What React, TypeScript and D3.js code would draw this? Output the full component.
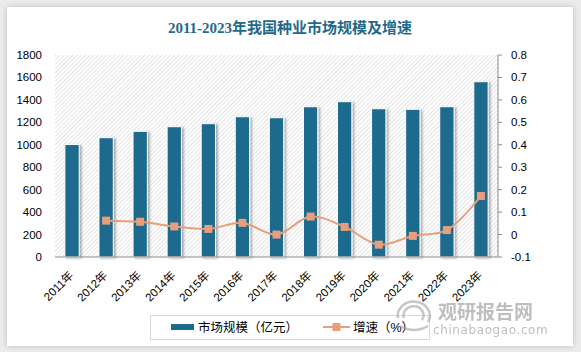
import React from "react";
import * as d3 from "d3";

const years = ["2011年","2012年","2013年","2014年","2015年","2016年","2017年","2018年","2019年","2020年","2021年","2022年","2023年"];
const marketSize = [1002, 1063, 1120, 1161, 1188, 1250, 1241, 1339, 1384, 1321, 1316, 1339, 1562];
const growth: (number | null)[] = [null, 0.062, 0.057, 0.036, 0.025, 0.052, 0.0, 0.08, 0.034, -0.045, -0.006, 0.02, 0.172];
const leftTicks = [0, 200, 400, 600, 800, 1000, 1200, 1400, 1600, 1800];
const rightTicks = [-0.1, 0, 0.1, 0.2, 0.3, 0.4, 0.5, 0.6, 0.7, 0.8];
const title = "2011-2023年我国种业市场规模及增速";
const legendBar = "市场规模（亿元）";
const legendLine = "增速（%）";

const W = 581, H = 352;
const L = 55, R = 498, T = 55, B = 257;
const BAR = "#1c6b8e";
const LINE = "#e89e7b";
const SANS = "'Liberation Sans', Arial, 'Noto Sans CJK SC', sans-serif";

export default function App() {
  const x = d3.scaleBand<string>().domain(years).range([L, R]).padding(0);
  const yL = d3.scaleLinear().domain([0, 1800]).range([B, T]);
  const yR = d3.scaleLinear().domain([-0.1, 0.8]).range([B, T]);
  const bw = x.bandwidth() * 0.42;
  const pts = years
    .map((y, i) => ({ y, v: growth[i] }))
    .filter((d) => d.v !== null) as { y: string; v: number }[];
  const line = d3
    .line<{ y: string; v: number }>()
    .x((d) => (x(d.y) as number) + x.bandwidth() / 2)
    .y((d) => yR(d.v))
    .curve(d3.curveCatmullRom.alpha(0.5));
  const fmt = (v: number) => (Math.abs(v) < 1e-9 ? "0" : v.toFixed(1));

  return (
    <svg width={W} height={H} style={{ position: "fixed", left: 0, top: 0 }} xmlns="http://www.w3.org/2000/svg">
      <defs>
        <pattern id="hatch" width="3" height="3" patternUnits="userSpaceOnUse" patternTransform="rotate(45)">
          <rect width="3" height="3" fill="#ffffff" />
          <line x1="0" y1="0" x2="0" y2="3" stroke="#cfcfcf" strokeWidth="1.1" />
        </pattern>
        <filter id="cardShadow" x="-5%" y="-5%" width="110%" height="110%">
          <feDropShadow dx="0" dy="0" stdDeviation="3" floodColor="#9a9a9a" floodOpacity="0.6" />
        </filter>
        <filter id="barShadow" x="-30%" y="-10%" width="160%" height="120%">
          <feDropShadow dx="2" dy="1" stdDeviation="1.2" floodColor="#000" floodOpacity="0.3" />
        </filter>
      </defs>
      <rect x={0} y={0} width={W} height={H} fill="#ececec" />
      <rect x={7} y={7} width={566} height={339} fill="#ffffff" filter="url(#cardShadow)" />
      <text x={290} y={33} textAnchor="middle" fontSize={15} fontWeight="bold" fill="#1f6a8c"
        fontFamily="'Liberation Serif', 'Noto Sans CJK SC', serif">{title}</text>

      <rect x={L} y={T} width={R - L} height={B - T} fill="url(#hatch)" />

      {years.map((yr, i) => (
        <rect key={yr} x={(x(yr) as number) + (x.bandwidth() - bw) / 2} y={yL(marketSize[i])}
          width={bw} height={B - yL(marketSize[i])} fill={BAR} stroke="#ffffff" strokeWidth={1}
          filter="url(#barShadow)" />
      ))}

      <line x1={L} x2={R} y1={B} y2={B} stroke="#8c8c8c" strokeWidth={1} />
      <line x1={R} x2={R} y1={T} y2={B} stroke="#8c8c8c" strokeWidth={1} />

      {leftTicks.map((t) => (
        <text key={t} x={42} y={yL(t)} dy="0.35em" textAnchor="end" fontSize={11.5} fill="#000" fontFamily={SANS}>{t}</text>
      ))}
      {rightTicks.map((t) => (
        <g key={t}>
          <line x1={R} x2={R + 4} y1={yR(t)} y2={yR(t)} stroke="#8c8c8c" />
          <text x={511} y={yR(t)} dy="0.35em" fontSize={11.5} fill="#000" fontFamily={SANS}>{fmt(t)}</text>
        </g>
      ))}

      {years.map((yr) => {
        const cx = (x(yr) as number) + x.bandwidth() / 2 + 2;
        const cy = 276;
        return (
          <text key={yr} x={cx} y={cy} textAnchor="end" fontSize={11.5} fill="#000" fontFamily={SANS}
            transform={`rotate(-45 ${cx} ${cy})`}>{yr}</text>
        );
      })}

      <path d={line(pts) || ""} fill="none" stroke={LINE} strokeWidth={2} />
      {pts.map((d) => (
        <rect key={d.y} x={(x(d.y) as number) + x.bandwidth() / 2 - 4} y={yR(d.v) - 4} width={8} height={8} fill={LINE} />
      ))}

      <rect x={150.5} y={315.5} width={279} height={24} fill="#fff" stroke="#d9d9d9" />
      <rect x={171} y={324} width={23} height={6} fill={BAR} />
      <text x={198} y={327} dy="0.38em" fontSize={12.5} fill="#000" fontFamily={SANS}>{legendBar}</text>
      <line x1={323} x2={350} y1={327} y2={327} stroke={LINE} strokeWidth={2} />
      <rect x={332.5} y={323} width={8} height={8} fill={LINE} />
      <text x={353} y={327} dy="0.38em" fontSize={12.5} fill="#000" fontFamily={SANS}>{legendLine}</text>

      <g opacity={0.55}>
        <g fill="none" stroke="#9a9a9a" strokeWidth={2.5}>
          <path d="M 398 318 A 16 14 0 1 1 428 322" />
          <path d="M 404 318 A 10 9 0 1 1 422 320" />
          <path d="M 400 326 Q 414 334 428 326" />
        </g>
        <text x={438} y={319} fontSize={19} fontWeight="bold" fill="#8a8a8a" fontFamily="'Noto Sans CJK SC', sans-serif">观研报告网</text>
        <text x={433} y={334} fontSize={12} fill="#8a8a8a" letterSpacing="0.6" fontFamily="'DejaVu Sans', sans-serif">chinabaogao.com</text>
      </g>
    </svg>
  );
}
